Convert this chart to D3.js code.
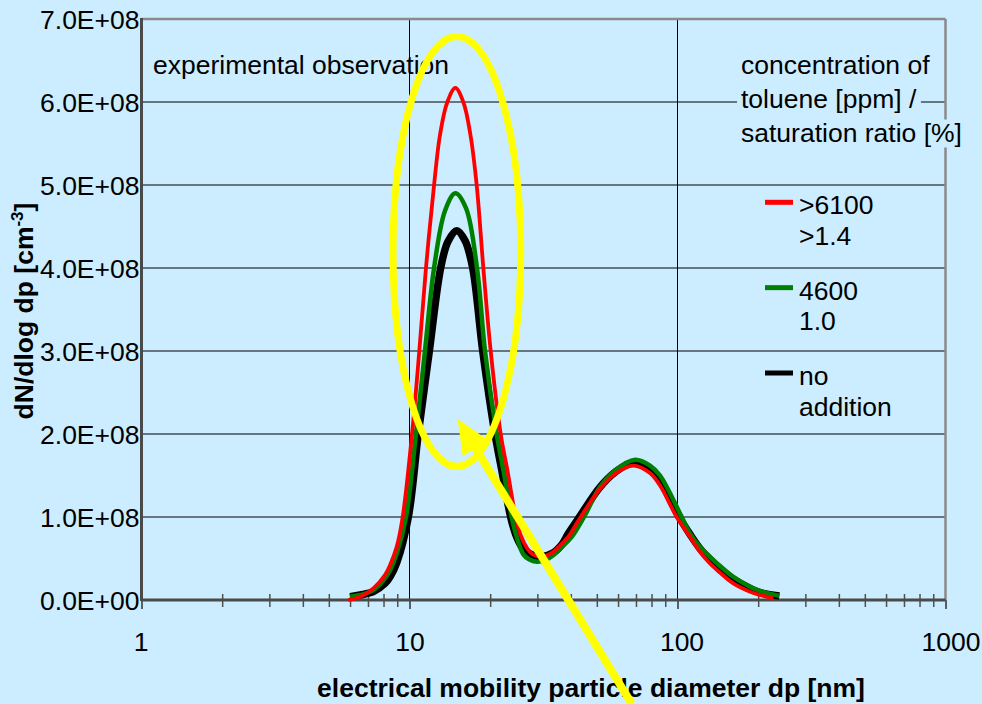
<!DOCTYPE html>
<html><head><meta charset="utf-8">
<script src="https://cdn.jsdelivr.net/npm/d3@7"></script>
<style>
html,body{margin:0;padding:0;background:#CCECFF;}
svg{display:block;font-family:"Liberation Sans",Arial,Helvetica,sans-serif;}
</style></head><body>
<svg id="chart" width="982" height="704"></svg>
<script>
// ---------- data ----------
const xTickValues = [1, 10, 100, 1000];
const xTickLabels = ["1", "10", "100", "1000"];
const yTickValues = [0, 1e8, 2e8, 3e8, 4e8, 5e8, 6e8, 7e8];
const yTickLabels = ["0.0E+00", "1.0E+08", "2.0E+08", "3.0E+08", "4.0E+08", "5.0E+08", "6.0E+08", "7.0E+08"];

// values in units of 1e8 cm^-3
const redDiameters = [5.90, 6.54, 7.33, 8.10, 8.46, 8.96, 9.43, 10.22, 10.88, 11.52, 12.35, 12.99, 13.84, 14.83, 15.88, 16.89, 17.81, 18.86, 20.09, 21.89, 23.17, 24.91, 25.99, 27.52, 28.89, 31.14, 34.41, 37.07, 39.13, 43.53, 51.38, 58.46, 68.42, 78.95, 86.06, 99.31, 111.4, 121.3, 132.2, 144.1, 161.5, 186.5, 203.2, 227.8];
const redValues = [0.00, 0.04, 0.14, 0.30, 0.42, 0.64, 1.00, 2.00, 3.00, 4.00, 5.00, 5.60, 6.00, 6.17, 6.00, 5.60, 5.00, 4.00, 3.00, 2.00, 1.57, 1.00, 0.78, 0.62, 0.55, 0.52, 0.58, 0.68, 0.76, 1.00, 1.34, 1.52, 1.62, 1.53, 1.38, 1.00, 0.76, 0.58, 0.44, 0.33, 0.20, 0.10, 0.06, 0.02];

const greenDiameters = [6.00, 6.54, 7.33, 8.10, 8.46, 8.96, 9.70, 10.57, 11.42, 12.35, 13.57, 14.83, 16.25, 17.86, 19.13, 21.15, 22.39, 24.06, 25.12, 26.59, 27.92, 29.83, 32.04, 34.41, 37.07, 40.29, 44.78, 51.38, 58.46, 69.42, 78.95, 86.06, 103.7, 111.4, 121.3, 132.2, 144.1, 161.5, 186.5, 203.2, 239.9];
const greenValues = [0.04, 0.06, 0.12, 0.26, 0.36, 0.56, 1.00, 2.00, 3.00, 4.00, 4.69, 4.90, 4.72, 4.00, 3.00, 2.00, 1.57, 1.00, 0.76, 0.55, 0.49, 0.46, 0.48, 0.54, 0.64, 0.76, 1.00, 1.36, 1.56, 1.69, 1.62, 1.50, 1.00, 0.80, 0.64, 0.52, 0.41, 0.28, 0.16, 0.11, 0.05];

const blackDiameters = [6.00, 6.54, 7.33, 8.10, 8.46, 8.96, 9.90, 10.78, 11.86, 13.07, 13.92, 15.01, 16.11, 17.21, 18.76, 20.84, 22.08, 23.85, 24.97, 26.52, 28.40, 30.68, 34.41, 37.07, 39.13, 42.65, 51.38, 58.46, 68.83, 78.95, 86.06, 101.5, 111.4, 121.3, 132.2, 144.1, 161.5, 186.5, 203.2, 239.9];
const blackValues = [0.04, 0.06, 0.10, 0.20, 0.28, 0.45, 1.00, 2.00, 3.00, 4.00, 4.32, 4.45, 4.33, 4.00, 3.00, 2.00, 1.57, 1.00, 0.78, 0.62, 0.55, 0.52, 0.57, 0.67, 0.80, 0.98, 1.36, 1.54, 1.66, 1.58, 1.45, 1.00, 0.79, 0.62, 0.49, 0.37, 0.25, 0.14, 0.09, 0.05];

const seriesLabels = [[">6100", ">1.4"], ["4600", "1.0"], ["no", "addition"]];
const legendTitle = ["concentration of", "toluene [ppm] /", "saturation ratio [%]"];
const annotationText = "experimental observation";
const xTitle = "electrical mobility particle diameter dp [nm]";

// annotation geometry in data coordinates (diameter nm, dN/dlog dp)
const highlightEllipse = {dMin: 8.68, dMax: 26.0, vMin: 1.61e8, vMax: 6.79e8};
const arrowFrom = [67.5, -1.25e8];
const arrowTo = [15.13, 2.18e8];

// ---------- setup ----------
const UNIT = 1e8;
const BG = "#CCECFF";
const FS = 26.5;
const svg = d3.select("#chart");
const L = 141.5, R = 945.5, T = 19, B = 600;
const x = d3.scaleLog().domain([1, 1000]).range([L, R]);
const y = d3.scaleLinear().domain([0, 7e8]).range([B, T]);

svg.append("rect").attr("width", 982).attr("height", 704).attr("fill", BG);

// gridlines
const g = svg.append("g");
g.selectAll("line.hg").data(yTickValues.filter(v => v > 0 && v < 7e8)).join("line")
  .attr("x1", L).attr("x2", R).attr("y1", d => y(d)).attr("y2", d => y(d))
  .attr("stroke", "#000").attr("stroke-width", 1);
g.selectAll("line.vg").data(xTickValues.filter(v => v > 1 && v < 1000)).join("line")
  .attr("y1", T).attr("y2", B).attr("x1", d => x(d)).attr("x2", d => x(d))
  .attr("stroke", "#000").attr("stroke-width", 1);

// border top/right
svg.append("line").attr("x1", L).attr("x2", R).attr("y1", T).attr("y2", T).attr("stroke", "#8a8a8a").attr("stroke-width", 2.5);
svg.append("line").attr("x1", R).attr("x2", R).attr("y1", T).attr("y2", B).attr("stroke", "#8a8a8a").attr("stroke-width", 2.5);

// x axis: minor ticks
const minor = [];
[1, 10, 100].forEach(dec => { for (let m = 2; m <= 9; m++) minor.push(dec * m); });
const xMinor = svg.append("g").attr("transform", `translate(0,${B})`)
  .call(d3.axisBottom(x).tickValues(minor).tickSize(7).tickFormat(""));
xMinor.select(".domain").remove();
xMinor.selectAll(".tick line").attr("y1", -6).attr("stroke", "#505050").attr("stroke-width", 1.5);

const xLabelShift = [-1, 0, 4, 5];
const xMajor = svg.append("g").attr("transform", `translate(0,${B})`)
  .call(d3.axisBottom(x).tickValues(xTickValues).tickSize(9).tickPadding(0)
    .tickFormat((d, i) => xTickLabels[i]));
xMajor.select(".domain").remove();
xMajor.selectAll(".tick line").attr("stroke", "#303030").attr("stroke-width", 1.5);
xMajor.selectAll(".tick text").attr("font-size", FS).attr("fill", "#000")
  .attr("font-family", "Liberation Sans, Arial, sans-serif").attr("y", 51).attr("dy", 0)
  .attr("dx", (d, i) => xLabelShift[i]);

// y axis labels
const yAx = svg.append("g").attr("transform", `translate(${L},0)`)
  .call(d3.axisLeft(y).tickValues(yTickValues).tickSize(0).tickPadding(2)
    .tickFormat((d, i) => yTickLabels[i]));
yAx.select(".domain").remove();
yAx.selectAll(".tick text").attr("font-size", FS).attr("fill", "#000")
  .attr("font-family", "Liberation Sans, Arial, sans-serif").attr("dy", "0.36em");

// axis lines
svg.append("line").attr("x1", L).attr("x2", L).attr("y1", T - 1).attr("y2", B + 1).attr("stroke", "#4a4a4a").attr("stroke-width", 3);
svg.append("line").attr("x1", L).attr("x2", R).attr("y1", B).attr("y2", B).attr("stroke", "#4a4a4a").attr("stroke-width", 3);

// series
const line = d3.line().x(d => x(d[0])).y(d => y(d[1] * UNIT)).curve(d3.curveCatmullRom.alpha(0.5));
const series = [
  {d: blackDiameters, v: blackValues, color: "#000000", w: 7.5},
  {d: greenDiameters, v: greenValues, color: "#008000", w: 4.5},
  {d: redDiameters, v: redValues, color: "#FF0000", w: 3.8}
];
series.forEach(s => {
  svg.append("path").datum(s.d.map((dd, i) => [dd, s.v[i]]))
    .attr("d", line).attr("fill", "none").attr("stroke", s.color)
    .attr("stroke-width", s.w).attr("stroke-linejoin", "round");
});

// legend title with background boxes
const lt = svg.append("g");
legendTitle.forEach((t, i) => {
  const tx = lt.append("text").attr("x", 741).attr("y", 73.5 + i * 34)
    .attr("font-size", FS).attr("fill", "#000").text(t);
  const bb = tx.node().getBBox();
  lt.insert("rect", "text").attr("x", bb.x - 4).attr("y", bb.y + 2)
    .attr("width", bb.width + 8).attr("height", bb.height - 2).attr("fill", BG);
});

// legend entries
const legendColors = ["#FF0000", "#008000", "#000000"];
seriesLabels.forEach((lab, i) => {
  const cy = 202.3 + i * 85.35;
  svg.append("line").attr("x1", 765).attr("x2", 793).attr("y1", cy).attr("y2", cy)
    .attr("stroke", legendColors[i]).attr("stroke-width", 5);
  lab.forEach((t, j) => {
    svg.append("text").attr("x", 799).attr("y", cy + 12 + j * 30.5)
      .attr("font-size", FS).attr("fill", "#000").text(t);
  });
});

// annotation text
svg.append("text").attr("x", 153).attr("y", 73.5).attr("font-size", FS).attr("fill", "#000").text(annotationText);

// axis titles
svg.append("text").attr("x", 591).attr("y", 697).attr("text-anchor", "middle")
  .attr("font-size", 26.5).attr("font-weight", "bold").attr("fill", "#000").text(xTitle);
const yt = svg.append("text").attr("transform", "translate(33,311) rotate(-90)")
  .attr("text-anchor", "middle").attr("font-size", 26.5).attr("font-weight", "bold").attr("fill", "#000");
yt.append("tspan").text("dN/dlog dp [cm");
yt.append("tspan").attr("dy", -10).attr("font-size", 17).text("-3");
yt.append("tspan").attr("dy", 10).text("]");

// yellow highlight ellipse
const ex1 = x(highlightEllipse.dMin), ex2 = x(highlightEllipse.dMax);
const ey1 = y(highlightEllipse.vMax), ey2 = y(highlightEllipse.vMin);
svg.append("ellipse").attr("cx", (ex1 + ex2) / 2).attr("cy", (ey1 + ey2) / 2)
  .attr("rx", (ex2 - ex1) / 2).attr("ry", (ey2 - ey1) / 2)
  .attr("fill", "none").attr("stroke", "#FFFF00").attr("stroke-width", 7);

// yellow arrow
const ax0 = x(arrowFrom[0]), ay0 = y(arrowFrom[1]);
const ax1 = x(arrowTo[0]), ay1 = y(arrowTo[1]);
const len = Math.hypot(ax1 - ax0, ay1 - ay0);
const ux = (ax1 - ax0) / len, uy = (ay1 - ay0) / len;
const headL = 34, headW = 15;
const bx = ax1 - ux * headL, by = ay1 - uy * headL;
svg.append("line").attr("x1", ax0).attr("y1", ay0).attr("x2", bx + ux * 2).attr("y2", by + uy * 2)
  .attr("stroke", "#FFFF00").attr("stroke-width", 8);
svg.append("polygon").attr("points", [
  [ax1, ay1], [bx - uy * headW, by + ux * headW], [bx + uy * headW, by - ux * headW]
].map(p => p.join(",")).join(" ")).attr("fill", "#FFFF00");
</script>
</body></html>
